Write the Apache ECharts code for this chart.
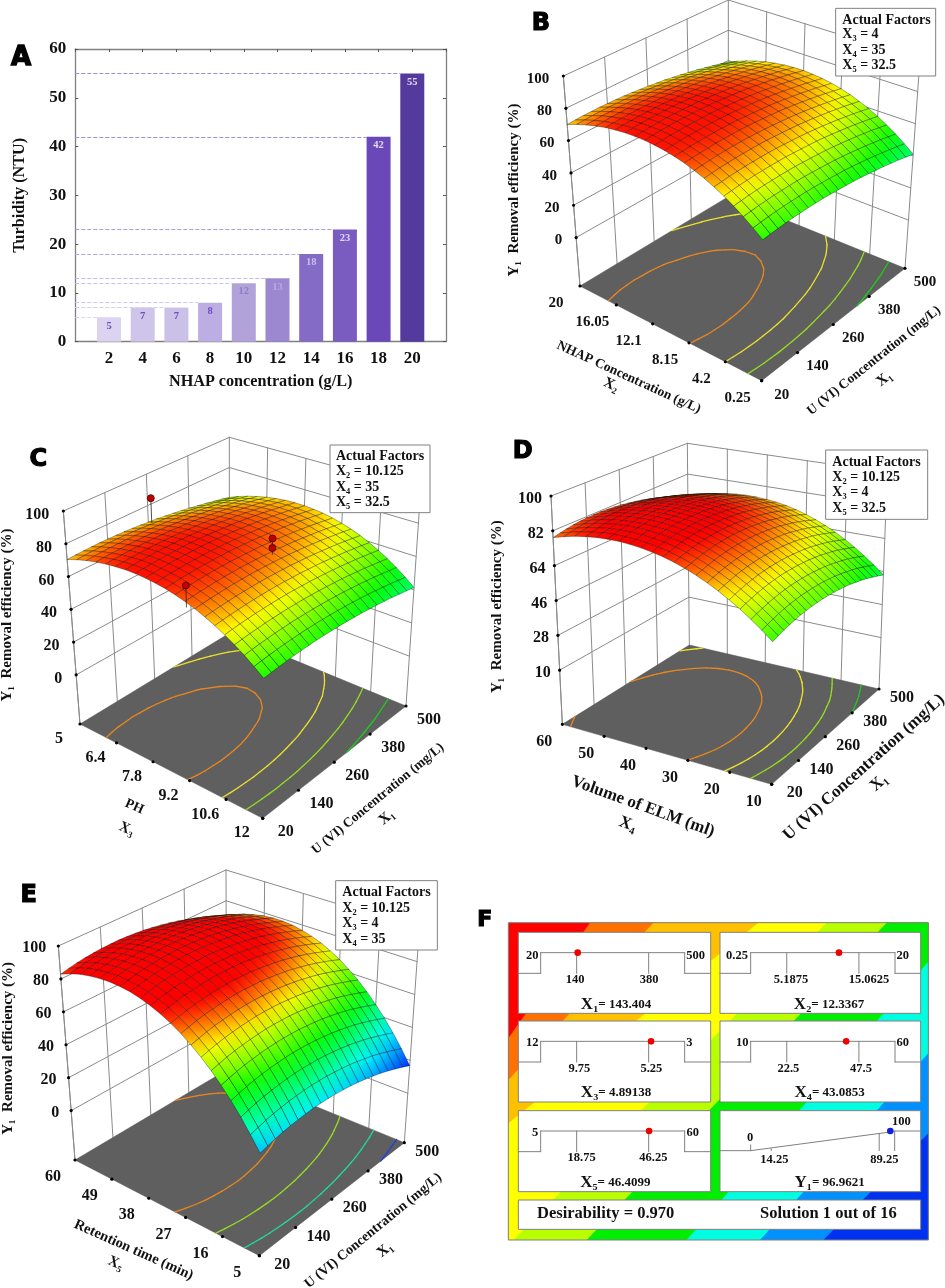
<!DOCTYPE html>
<html><head><meta charset="utf-8">
<style>html,body{margin:0;padding:0;background:#fff}#c{width:945px;height:1288px}</style>
<script src="https://cdn.jsdelivr.net/npm/echarts@6/dist/echarts.min.js"></script>
</head><body><div id="c"></div>
<script>
// ---------- Panel A data ----------
const barX=[2,4,6,8,10,12,14,16,18,20];
const barY=[5,7,7,8,12,13,18,23,42,55];
// ---------- Surfaces: rows are X1 (20..500), columns the second factor (low..high) ----------
const surfaceB=[
[52,56.4,60.5,64.2,67.6,70.5,73.1,75.3,77.2,78.6,79.7,80.4,80.8,80.7,80.3,79.5,78.4,76.8,74.9,72.6,70],
[52.3,56.7,60.8,64.5,67.9,70.8,73.4,75.6,77.5,78.9,80,80.7,81.1,81,80.6,79.8,78.7,77.1,75.2,72.9,70.3],
[52.6,57,61.1,64.8,68.2,71.1,73.7,75.9,77.8,79.2,80.3,81,81.4,81.3,80.9,80.1,79,77.4,75.5,73.2,70.6],
[52.7,57.1,61.2,64.9,68.3,71.2,73.8,76,77.9,79.3,80.4,81.1,81.5,81.4,81,80.2,79.1,77.5,75.6,73.3,70.7],
[52.8,57.2,61.3,65,68.4,71.3,73.9,76.1,78,79.4,80.5,81.2,81.6,81.5,81.1,80.3,79.2,77.6,75.7,73.4,70.8],
[52.7,57.1,61.2,64.9,68.3,71.2,73.8,76,77.9,79.3,80.4,81.1,81.5,81.4,81,80.2,79.1,77.5,75.6,73.3,70.7],
[52.6,57,61.1,64.8,68.2,71.1,73.7,75.9,77.8,79.2,80.3,81,81.4,81.3,80.9,80.1,79,77.4,75.5,73.2,70.6],
[52.4,56.8,60.9,64.6,68,70.9,73.5,75.7,77.6,79,80.1,80.8,81.2,81.1,80.7,79.9,78.8,77.2,75.3,73,70.4],
[52.1,56.5,60.6,64.3,67.7,70.6,73.2,75.4,77.3,78.7,79.8,80.5,80.9,80.8,80.4,79.6,78.5,76.9,75,72.7,70.1],
[51.6,56,60.1,63.8,67.2,70.1,72.7,74.9,76.8,78.2,79.3,80,80.4,80.3,79.9,79.1,78,76.4,74.5,72.2,69.6],
[51.1,55.5,59.6,63.3,66.7,69.6,72.2,74.4,76.3,77.7,78.8,79.5,79.9,79.8,79.4,78.6,77.5,75.9,74,71.7,69.1],
[50.5,54.9,59,62.7,66.1,69,71.6,73.8,75.7,77.1,78.2,78.9,79.3,79.2,78.8,78,76.9,75.3,73.4,71.1,68.5],
[49.9,54.3,58.4,62.1,65.5,68.4,71,73.2,75.1,76.5,77.6,78.3,78.7,78.6,78.2,77.4,76.3,74.7,72.8,70.5,67.9],
[49.1,53.5,57.6,61.3,64.7,67.6,70.2,72.4,74.3,75.7,76.8,77.5,77.9,77.8,77.4,76.6,75.5,73.9,72,69.7,67.1],
[48.2,52.6,56.7,60.4,63.8,66.7,69.3,71.5,73.4,74.8,75.9,76.6,77,76.9,76.5,75.7,74.6,73,71.1,68.8,66.2],
[47.2,51.6,55.7,59.4,62.8,65.7,68.3,70.5,72.4,73.8,74.9,75.6,76,75.9,75.5,74.7,73.6,72,70.1,67.8,65.2],
[46.2,50.6,54.7,58.4,61.8,64.7,67.3,69.5,71.4,72.8,73.9,74.6,75,74.9,74.5,73.7,72.6,71,69.1,66.8,64.2],
[45,49.4,53.5,57.2,60.6,63.5,66.1,68.3,70.2,71.6,72.7,73.4,73.8,73.7,73.3,72.5,71.4,69.8,67.9,65.6,63],
[43.8,48.2,52.3,56,59.4,62.3,64.9,67.1,69,70.4,71.5,72.2,72.6,72.5,72.1,71.3,70.2,68.6,66.7,64.4,61.8],
[42.4,46.8,50.9,54.6,58,60.9,63.5,65.7,67.6,69,70.1,70.8,71.2,71.1,70.7,69.9,68.8,67.2,65.3,63,60.4],
[41,45.4,49.5,53.2,56.6,59.5,62.1,64.3,66.2,67.6,68.7,69.4,69.8,69.7,69.3,68.5,67.4,65.8,63.9,61.6,59]];
const surfaceC=[
[51.5,55.8,59.8,63.4,66.7,69.6,72.2,74.4,76.2,77.7,78.9,79.6,80,80.1,79.8,79.1,78.1,76.7,75,72.9,70.4],
[51.8,56.1,60.1,63.7,67,69.9,72.5,74.7,76.5,78,79.2,79.9,80.3,80.4,80.1,79.4,78.4,77,75.3,73.2,70.7],
[52,56.3,60.3,63.9,67.2,70.1,72.7,74.9,76.7,78.2,79.4,80.1,80.5,80.6,80.3,79.6,78.6,77.2,75.5,73.4,70.9],
[52.1,56.4,60.4,64,67.3,70.2,72.8,75,76.8,78.3,79.5,80.2,80.6,80.7,80.4,79.7,78.7,77.3,75.6,73.5,71],
[52.2,56.5,60.5,64.1,67.4,70.3,72.9,75.1,76.9,78.4,79.6,80.3,80.7,80.8,80.5,79.8,78.8,77.4,75.7,73.6,71.1],
[52.1,56.4,60.4,64,67.3,70.2,72.8,75,76.8,78.3,79.5,80.2,80.6,80.7,80.4,79.7,78.7,77.3,75.6,73.5,71],
[52,56.3,60.3,63.9,67.2,70.1,72.7,74.9,76.7,78.2,79.4,80.1,80.5,80.6,80.3,79.6,78.6,77.2,75.5,73.4,70.9],
[51.8,56.1,60.1,63.7,67,69.9,72.5,74.7,76.5,78,79.2,79.9,80.3,80.4,80.1,79.4,78.4,77,75.3,73.2,70.7],
[51.5,55.8,59.8,63.4,66.7,69.6,72.2,74.4,76.2,77.7,78.9,79.6,80,80.1,79.8,79.1,78.1,76.7,75,72.9,70.4],
[51.1,55.4,59.4,63,66.3,69.2,71.8,74,75.8,77.3,78.5,79.2,79.6,79.7,79.4,78.7,77.7,76.3,74.6,72.5,70],
[50.6,54.9,58.9,62.5,65.8,68.7,71.3,73.5,75.3,76.8,78,78.7,79.1,79.2,78.9,78.2,77.2,75.8,74.1,72,69.5],
[50.1,54.4,58.4,62,65.3,68.2,70.8,73,74.8,76.3,77.5,78.2,78.6,78.7,78.4,77.7,76.7,75.3,73.6,71.5,69],
[49.4,53.7,57.7,61.3,64.6,67.5,70.1,72.3,74.1,75.6,76.8,77.5,77.9,78,77.7,77,76,74.6,72.9,70.8,68.3],
[48.7,53,57,60.6,63.9,66.8,69.4,71.6,73.4,74.9,76.1,76.8,77.2,77.3,77,76.3,75.3,73.9,72.2,70.1,67.6],
[47.9,52.2,56.2,59.8,63.1,66,68.6,70.8,72.6,74.1,75.3,76,76.4,76.5,76.2,75.5,74.5,73.1,71.4,69.3,66.8],
[47,51.3,55.3,58.9,62.2,65.1,67.7,69.9,71.7,73.2,74.4,75.1,75.5,75.6,75.3,74.6,73.6,72.2,70.5,68.4,65.9],
[46,50.3,54.3,57.9,61.2,64.1,66.7,68.9,70.7,72.2,73.4,74.1,74.5,74.6,74.3,73.6,72.6,71.2,69.5,67.4,64.9],
[45,49.3,53.3,56.9,60.2,63.1,65.7,67.9,69.7,71.2,72.4,73.1,73.5,73.6,73.3,72.6,71.6,70.2,68.5,66.4,63.9],
[43.8,48.1,52.1,55.7,59,61.9,64.5,66.7,68.5,70,71.2,71.9,72.3,72.4,72.1,71.4,70.4,69,67.3,65.2,62.7],
[42.6,46.9,50.9,54.5,57.8,60.7,63.3,65.5,67.3,68.8,70,70.7,71.1,71.2,70.9,70.2,69.2,67.8,66.1,64,61.5],
[41.3,45.6,49.6,53.2,56.5,59.4,62,64.2,66,67.5,68.7,69.4,69.8,69.9,69.6,68.9,67.9,66.5,64.8,62.7,60.2]];
const surfaceD=[
[54.1,58.5,62.5,66.3,69.6,72.7,75.4,77.8,79.9,81.6,83,84,84.7,85.1,85.2,84.9,84.3,83.3,82.1,80.4,78.5],
[54.9,59.3,63.3,67.1,70.4,73.5,76.2,78.6,80.7,82.4,83.8,84.8,85.5,85.9,86,85.7,85.1,84.1,82.9,81.2,79.3],
[55.6,60,64,67.8,71.1,74.2,76.9,79.3,81.4,83.1,84.5,85.5,86.2,86.6,86.7,86.4,85.8,84.8,83.6,81.9,80],
[56.2,60.6,64.6,68.4,71.7,74.8,77.5,79.9,82,83.7,85.1,86.1,86.8,87.2,87.3,87,86.4,85.4,84.2,82.5,80.6],
[56.6,61,65,68.8,72.1,75.2,77.9,80.3,82.4,84.1,85.5,86.5,87.2,87.6,87.7,87.4,86.8,85.8,84.6,82.9,81],
[56.9,61.3,65.3,69.1,72.4,75.5,78.2,80.6,82.7,84.4,85.8,86.8,87.5,87.9,88,87.7,87.1,86.1,84.9,83.2,81.3],
[57,61.4,65.4,69.2,72.5,75.6,78.3,80.7,82.8,84.5,85.9,86.9,87.6,88,88.1,87.8,87.2,86.2,85,83.3,81.4],
[57,61.4,65.4,69.2,72.5,75.6,78.3,80.7,82.8,84.5,85.9,86.9,87.6,88,88.1,87.8,87.2,86.2,85,83.3,81.4],
[56.8,61.2,65.2,69,72.3,75.4,78.1,80.5,82.6,84.3,85.7,86.7,87.4,87.8,87.9,87.6,87,86,84.8,83.1,81.2],
[56.5,60.9,64.9,68.7,72,75.1,77.8,80.2,82.3,84,85.4,86.4,87.1,87.5,87.6,87.3,86.7,85.7,84.5,82.8,80.9],
[56.1,60.5,64.5,68.3,71.6,74.7,77.4,79.8,81.9,83.6,85,86,86.7,87.1,87.2,86.9,86.3,85.3,84.1,82.4,80.5],
[55.5,59.9,63.9,67.7,71,74.1,76.8,79.2,81.3,83,84.4,85.4,86.1,86.5,86.6,86.3,85.7,84.7,83.5,81.8,79.9],
[54.8,59.2,63.2,67,70.3,73.4,76.1,78.5,80.6,82.3,83.7,84.7,85.4,85.8,85.9,85.6,85,84,82.8,81.1,79.2],
[54,58.4,62.4,66.2,69.5,72.6,75.3,77.7,79.8,81.5,82.9,83.9,84.6,85,85.1,84.8,84.2,83.2,82,80.3,78.4],
[53,57.4,61.4,65.2,68.5,71.6,74.3,76.7,78.8,80.5,81.9,82.9,83.6,84,84.1,83.8,83.2,82.2,81,79.3,77.4],
[51.8,56.2,60.2,64,67.3,70.4,73.1,75.5,77.6,79.3,80.7,81.7,82.4,82.8,82.9,82.6,82,81,79.8,78.1,76.2],
[50.6,55,59,62.8,66.1,69.2,71.9,74.3,76.4,78.1,79.5,80.5,81.2,81.6,81.7,81.4,80.8,79.8,78.6,76.9,75],
[49.2,53.6,57.6,61.4,64.7,67.8,70.5,72.9,75,76.7,78.1,79.1,79.8,80.2,80.3,80,79.4,78.4,77.2,75.5,73.6],
[47.6,52,56,59.8,63.1,66.2,68.9,71.3,73.4,75.1,76.5,77.5,78.2,78.6,78.7,78.4,77.8,76.8,75.6,73.9,72],
[45.9,50.3,54.3,58.1,61.4,64.5,67.2,69.6,71.7,73.4,74.8,75.8,76.5,76.9,77,76.7,76.1,75.1,73.9,72.2,70.3],
[44.1,48.5,52.5,56.3,59.6,62.7,65.4,67.8,69.9,71.6,73,74,74.7,75.1,75.2,74.9,74.3,73.3,72.1,70.4,68.5]];
const surfaceE=[
[29.6,37.8,45.4,52.4,58.8,64.7,70,74.7,78.8,82.3,85.3,87.6,89.4,90.7,91.3,91.4,90.8,89.7,88.1,85.8,82.9],
[30.7,38.9,46.5,53.5,59.9,65.8,71.1,75.8,79.9,83.4,86.4,88.7,90.5,91.8,92.4,92.5,91.9,90.8,89.2,86.9,84],
[31.7,39.9,47.5,54.5,60.9,66.8,72.1,76.8,80.9,84.4,87.4,89.7,91.5,92.8,93.4,93.5,92.9,91.8,90.2,87.9,85],
[32.5,40.7,48.3,55.3,61.7,67.6,72.9,77.6,81.7,85.2,88.2,90.5,92.3,93.6,94.2,94.3,93.7,92.6,91,88.7,85.8],
[33,41.2,48.8,55.8,62.2,68.1,73.4,78.1,82.2,85.7,88.7,91,92.8,94.1,94.7,94.8,94.2,93.1,91.5,89.2,86.3],
[33.4,41.6,49.2,56.2,62.6,68.5,73.8,78.5,82.6,86.1,89.1,91.4,93.2,94.5,95.1,95.2,94.6,93.5,91.9,89.6,86.7],
[33.6,41.8,49.4,56.4,62.8,68.7,74,78.7,82.8,86.3,89.3,91.6,93.4,94.7,95.3,95.4,94.8,93.7,92.1,89.8,86.9],
[33.7,41.9,49.5,56.5,62.9,68.8,74.1,78.8,82.9,86.4,89.4,91.7,93.5,94.8,95.4,95.5,94.9,93.8,92.2,89.9,87],
[33.5,41.7,49.3,56.3,62.7,68.6,73.9,78.6,82.7,86.2,89.2,91.5,93.3,94.6,95.2,95.3,94.7,93.6,92,89.7,86.8],
[33.1,41.3,48.9,55.9,62.3,68.2,73.5,78.2,82.3,85.8,88.8,91.1,92.9,94.2,94.8,94.9,94.3,93.2,91.6,89.3,86.4],
[32.6,40.8,48.4,55.4,61.8,67.7,73,77.7,81.8,85.3,88.3,90.6,92.4,93.7,94.3,94.4,93.8,92.7,91.1,88.8,85.9],
[31.8,40,47.6,54.6,61,66.9,72.2,76.9,81,84.5,87.5,89.8,91.6,92.9,93.5,93.6,93,91.9,90.3,88,85.1],
[30.9,39.1,46.7,53.7,60.1,66,71.3,76,80.1,83.6,86.6,88.9,90.7,92,92.6,92.7,92.1,91,89.4,87.1,84.2],
[29.8,38,45.6,52.6,59,64.9,70.2,74.9,79,82.5,85.5,87.8,89.6,90.9,91.5,91.6,91,89.9,88.3,86,83.1],
[28.5,36.7,44.3,51.3,57.7,63.6,68.9,73.6,77.7,81.2,84.2,86.5,88.3,89.6,90.2,90.3,89.7,88.6,87,84.7,81.8],
[27,35.2,42.8,49.8,56.2,62.1,67.4,72.1,76.2,79.7,82.7,85,86.8,88.1,88.7,88.8,88.2,87.1,85.5,83.2,80.3],
[25.4,33.6,41.2,48.2,54.6,60.5,65.8,70.5,74.6,78.1,81.1,83.4,85.2,86.5,87.1,87.2,86.6,85.5,83.9,81.6,78.7],
[23.5,31.7,39.3,46.3,52.7,58.6,63.9,68.6,72.7,76.2,79.2,81.5,83.3,84.6,85.2,85.3,84.7,83.6,82,79.7,76.8],
[21.4,29.6,37.2,44.2,50.6,56.5,61.8,66.5,70.6,74.1,77.1,79.4,81.2,82.5,83.1,83.2,82.6,81.5,79.9,77.6,74.7],
[19.2,27.4,35,42,48.4,54.3,59.6,64.3,68.4,71.9,74.9,77.2,79,80.3,80.9,81,80.4,79.3,77.7,75.4,72.5],
[16.8,25,32.6,39.6,46,51.9,57.2,61.9,66,69.5,72.5,74.8,76.6,77.9,78.5,78.6,78,76.9,75.3,73,70.1]];
// ---------- Tick labels and levels ----------
const x1Ticks=['20','140','260','380','500'];
const x2Ticks=['0.25','4.2','8.15','12.1','16.05','20'];
const x3Ticks=['12','10.6','9.2','7.8','6.4','5'];
const x4Ticks=['10','20','30','40','50','60'];
const x5Ticks=['5','16','27','38','49','60'];
const yTicks=[0,20,40,60,80,100];
const yTicksD=[10,28,46,64,82,100];
const levelsB=[77,67.6,58.4,48.8];
const levelsC=[76.5,67.9,59.1,49.6];
const levelsD=[80,71.1,62.5,52];
const levelsE=[82.8,63,42.5,24];
// design points of panel C
const dotX1=[159,260,260,140];
const dotX3=[6.4,9.51,9.51,7.8];
const dotY=[104,87.7,81.9,62];
const dotStemTo=[89,81.9,78,49];
// panel F
const sliderLow=[20,0.25,12,10,5];
const sliderHigh=[500,20,3,60,60];
const sliderDot=[143.404,12.3367,5.1,43.0853,46.4099];
const sliderTicks=[[140,380],[5.1875,15.0625],[9.75,5.25],[22.5,47.5],[18.75,46.25]];
const readouts=['= 143.404','= 12.3367','= 4.89138','= 43.0853','= 46.4099'];
const responseTicks=[0,14.25,89.25,100];
const responseValue=96.9621;
const SERIF='"Liberation Serif"';
// ---------- Layout ----------
const stopsBC=[[14,'#0030ff'],[30,'#00ffff'],[50,'#00ff00'],[67,'#ffff00'],[80,'#ff1000']];
const stopsD=[[14,'#0030ff'],[30,'#00ffff'],[50,'#00ff00'],[70,'#ffff00'],[85,'#ff0000']];
const stopsE=[[17,'#0030ff'],[35,'#00ffff'],[54,'#00ff00'],[72,'#ffff00'],[86,'#ff0000']];
const panels=[
{name:'B',off:[480,0],zF:-30,zT:100,grid:surfaceB,levels:levelsB,zt:yTicks,vt:x2Ticks,stops:stopsBC,
 cc:['#e8861e','#ebe02a','#96dc20','#20c820'],
 f:{F:[845,1142],L:[300,858],R:[1275,805],K:[745,590]},t:{F:[850,472],L:[250,228],R:[1320,178],K:[745,0]},
 zo:[-14,3],vo:[-24,17],uo:[20,14],fs:15,
 yt:[102,570],lt:{s:'NHAP Concentration (g/L)',p:[446,1132],r:-24.6,fs:13.5},lx:{s:'X₂',p:[393,1155]},
 rt:{p:[1182,1082],r:38.6,fs:13.5},rx:{s:'X₁',p:[1213,1137]},
 box:[1067,25,1367,228],bt:[1087,[60,102,150,196]],leg:['Actual Factors','X₃ = 4','X₄ = 35','X₅ = 32.5'],letter:[183,70]},
{name:'C',off:[0,430],zF:-30,zT:100,grid:surfaceC,levels:levelsC,zt:yTicks,vt:x3Ticks,stops:stopsBC,
 cc:['#e8861e','#ebe02a','#96dc20','#20c820'],
 f:{F:[788,1165],L:[240,882],R:[1218,828],K:[688,610]},t:{F:[793,495],L:[190,243],R:[1262,180],K:[688,22]},
 zo:[-14,4],vo:[-21,15],uo:[23,14],fs:16,
 yt:[22,555],lt:{s:'PH',p:[403,1130],r:-24,fs:13.5},lx:{s:'X₃',p:[380,1197]},
 rt:{p:[1134,1106],r:39.5,fs:13.5},rx:{s:'X₁',p:[1160,1162]},
 box:[990,45,1290,248],bt:[1008,[78,125,172,217]],leg:['Actual Factors','X₂ = 10.125','X₄ = 35','X₅ = 32.5'],letter:[115,88]},
{name:'D',off:[480,430],zF:-18,zT:100,grid:surfaceD,levels:levelsD,zt:yTicksD,vt:x4Ticks,stops:stopsD,
 cc:['#e8861e','#ebe02a','#96dc20','#20c820'],
 f:{F:[875,1063],L:[247,883],R:[1197,777],K:[628,645]},t:{F:[880,363],L:[213,198],R:[1222,127],K:[622,40]},
 zo:[-9,3],vo:[-18,17.5],uo:[23,9],fs:16,
 yt:[52,530],lt:{s:'Volume of ELM (ml)',p:[489,1130],r:-20,fs:17},lx:{s:'X₄',p:[443,1183],fs:17},
 rt:{p:[1152,1012],r:41.8,fs:17},rx:{s:'X₁',p:[1197,1058],fs:17},
 box:[1037,60,1343,268],bt:[1057,[97,143,188,235]],leg:['Actual Factors','X₂ = 10.125','X₃ = 4','X₅ = 32.5'],letter:[128,66]},
{name:'E',off:[0,870],zF:-30,zT:100,grid:surfaceE,levels:levelsE,zt:yTicks,vt:x5Ticks,stops:stopsE,
 cc:['#e8861e','#96dc20','#20d8a0','#2040e0'],
 f:{F:[778,1157],L:[225,870],R:[1213,818],K:[680,600]},t:{F:[783,487],L:[175,228],R:[1258,176],K:[678,0]},
 zo:[-12,2],vo:[-22,17],uo:[23,9],fs:16,
 yt:[25,535],lt:{s:'Retention time (min)',p:[401,1140],r:-24,fs:14.5},lx:{s:'X₅',p:[347,1180]},
 rt:{p:[1120,1082],r:39.5,fs:14},rx:{s:'X₁',p:[1155,1140]},
 box:[1007,32,1312,240],bt:[1027,[68,114,160,207]],leg:['Actual Factors','X₂ = 10.125','X₃ = 4','X₄ = 35'],letter:[86,76]}];
const lerp=(a,b,t)=>a+(b-a)*t;
function project(c,u,v,z){
  const t=(z-c.zF)/(c.zT-c.zF);
  const bil=(q,k)=>(1-u)*(1-v)*q.F[k]+u*(1-v)*q.R[k]+(1-u)*v*q.L[k]+u*v*q.K[k];
  return [c.off[0]+lerp(bil(c.f,0),bil(c.t,0),t)/3, c.off[1]+lerp(bil(c.f,1),bil(c.t,1),t)/3];
}
function colorOf(stops,z){
  if(z<=stops[0][0])return stops[0][1];
  for(let i=1;i<stops.length;i++){
    if(z<=stops[i][0]){
      const t=(z-stops[i-1][0])/(stops[i][0]-stops[i-1][0]);
      return echarts.color.lerp(t,[stops[i-1][1],stops[i][1]]);
    }
  }
  return stops[stops.length-1][1];
}
const line=(a,b,stroke,w)=>({type:'line',shape:{x1:a[0],y1:a[1],x2:b[0],y2:b[1]},style:{stroke,lineWidth:w,lineCap:'round'}});
const text=(s,p,o={})=>({type:'text',x:p[0],y:p[1],rotation:(o.r||0)*Math.PI/180,style:{text:s,fill:o.fill||'#111',
  fontFamily:o.ff||SERIF,fontWeight:o.fw||'bold',fontSize:o.fs||16,align:o.align||'center',verticalAlign:'middle',
  rich:o.rich,stroke:o.stroke,lineWidth:o.lw||0}});
const dot=(p,r,fill,stroke)=>({type:'circle',shape:{cx:p[0],cy:p[1],r},style:{fill,stroke:stroke||fill,lineWidth:stroke?0.8:0}});
function contourSegments(g,level){
  const n=g.length-1,m=g[0].length-1,segs=[];
  for(let i=0;i<n;i++)for(let j=0;j<m;j++){
    const a=g[i][j],b=g[i+1][j],c=g[i+1][j+1],d=g[i][j+1],pts=[];
    const cross=(z1,z2,p1,p2)=>{
      if((z1<level)!==(z2<level)){const t=(level-z1)/(z2-z1);pts.push([lerp(p1[0],p2[0],t),lerp(p1[1],p2[1],t)]);}
    };
    cross(a,b,[i,j],[i+1,j]);cross(b,c,[i+1,j],[i+1,j+1]);cross(c,d,[i+1,j+1],[i,j+1]);cross(d,a,[i,j+1],[i,j]);
    if(pts.length>=2)segs.push([pts[0],pts[1]]);
    if(pts.length===4)segs.push([pts[2],pts[3]]);
  }
  return segs.map(s=>s.map(q=>[q[0]/n,q[1]/m]));
}
function frameSeries(c){
  return {type:'custom',coordinateSystem:'cartesian2d',xAxisIndex:0,yAxisIndex:0,clip:false,silent:true,z:2,data:[[0,0]],
   renderItem(params,api){
    const P=(u,v,z)=>api.coord(project(c,u,v,z));
    const ch=[],gray='#8a8a8a';
    c.zt.forEach(z=>{ch.push(line(P(0,1,z),P(1,1,z),gray,1));ch.push(line(P(1,1,z),P(1,0,z),gray,1));});
    [0,.25,.5,.75,1].forEach(u=>ch.push(line(P(u,1,c.zF),P(u,1,c.zT),gray,1)));
    [0,.2,.4,.6,.8].forEach(v=>ch.push(line(P(1,v,c.zF),P(1,v,c.zT),gray,1)));
    ch.push(line(P(0,1,c.zF),P(0,1,c.zT),gray,1));
    ch.push({type:'polygon',shape:{points:[P(0,0,c.zF),P(1,0,c.zF),P(1,1,c.zF),P(0,1,c.zF)]},style:{fill:'#5f5f5f',stroke:'#555',lineWidth:.5}});
    c.levels.forEach((lv,k)=>contourSegments(c.grid,lv).forEach(s=>{
      ch.push(line(P(s[0][0],s[0][1],c.zF),P(s[1][0],s[1][1],c.zF),c.cc[k],1.3));
    }));
    c.zt.forEach(z=>{const p=P(0,1,z);ch.push(dot(p,1.6,'#000'));
      ch.push(text(String(z),[p[0]+c.zo[0],p[1]+c.zo[1]],{fs:c.fs,align:'right'}));});
    c.vt.forEach((s,k)=>{const p=P(0,k/5,c.zF);ch.push(dot(p,1.6,'#000'));
      ch.push(text(s,[p[0]+c.vo[0],p[1]+c.vo[1]],{fs:c.fs}));});
    x1Ticks.forEach((s,k)=>{const p=P(k/4,0,c.zF);ch.push(dot(p,1.6,'#000'));
      ch.push(text(s,[p[0]+c.uo[0],p[1]+c.uo[1]],{fs:c.fs}));});
    const Z=q=>api.coord([c.off[0]+q[0]/3,c.off[1]+q[1]/3]);
    ch.push(text('Y₁  Removal efficiency (%)',Z(c.yt),{r:90,fs:15}));
    ch.push(text(c.lt.s,Z(c.lt.p),{r:c.lt.r,fs:c.lt.fs}));
    ch.push(text(c.lx.s,Z(c.lx.p),{r:c.lt.r,fs:c.lx.fs||15}));
    ch.push(text('U (VI) Concentration (mg/L)',Z(c.rt.p),{r:c.rt.r,fs:c.rt.fs}));
    ch.push(text(c.rx.s,Z(c.rx.p),{r:c.rt.r,fs:c.rx.fs||15}));
    return {type:'group',children:ch};
   }};
}
function surfaceSeries(c){
  const cells=[];
  for(let i=c.grid.length-2;i>=0;i--)for(let j=c.grid[0].length-2;j>=0;j--)cells.push([i,j]);
  const n=c.grid.length-1,m=c.grid[0].length-1;
  return {type:'custom',coordinateSystem:'cartesian2d',xAxisIndex:0,yAxisIndex:0,clip:false,silent:true,z:3,progressive:0,data:cells,
   renderItem(params,api){
    const i=api.value(0),j=api.value(1),g=c.grid;
    const corners=[[i,j],[i+1,j],[i+1,j+1],[i,j+1]];
    const V=q=>api.coord(project(c,q[0]/n,q[1]/m,g[q[0]][q[1]]));
    let lo=corners[0],hi=corners[0];
    corners.forEach(q=>{if(g[q[0]][q[1]]<g[lo[0]][lo[1]])lo=q;if(g[q[0]][q[1]]>g[hi[0]][hi[1]])hi=q;});
    const a=V(lo),b=V(hi);
    const fill=new echarts.graphic.LinearGradient(a[0],a[1],b[0],b[1],[
      {offset:0,color:colorOf(c.stops,g[lo[0]][lo[1]])},{offset:1,color:colorOf(c.stops,g[hi[0]][hi[1]])}],true);
    return {type:'polygon',shape:{points:corners.map(V)},style:{fill,stroke:'rgba(0,0,0,0.55)',lineWidth:.6}};
   }};
}
function overlaySeries(c){
  return {type:'custom',coordinateSystem:'cartesian2d',xAxisIndex:0,yAxisIndex:0,clip:false,silent:true,z:5,data:[[0,0]],
   renderItem(params,api){
    const Z=q=>api.coord([c.off[0]+q[0]/3,c.off[1]+q[1]/3]);
    const tl=Z([c.box[0],c.box[1]]),br=Z([c.box[2],c.box[3]]),ch=[];
    ch.push({type:'rect',shape:{x:tl[0],y:tl[1],width:br[0]-tl[0],height:br[1]-tl[1]},style:{fill:'#fff',stroke:'#808080',lineWidth:1}});
    c.leg.forEach((s,k)=>ch.push(text(s,Z([c.bt[0],c.bt[1][k]]),{align:'left',fs:14})));
    ch.push(text(c.name,Z(c.letter),{ff:'"DejaVu Sans"',fs:24,fill:'#000',stroke:'#000',lw:1.2}));
    if(c.name==='C'){
      dotX1.forEach((x,k)=>{
        const u=(x-20)/480,v=(12-dotX3[k])/7;
        const a=api.coord(project(c,u,v,dotY[k])),b=api.coord(project(c,u,v,dotStemTo[k]));
        ch.push(line(a,b,'#222',.8));ch.push(dot(a,3.5,'#c00000','#4a0000'));
      });
    }
    return {type:'group',children:ch};
   }};
}
// ---------- Panel F ----------
const bands=[
 ['#ff7000',[330,68],[85,415]],['#ffc000',[520,68],[85,540]],['#ffff00',[835,68],[85,670]],
 ['#b8ff00',[1040,68],[100,1020]],['#00ee00',[1220,68],[320,1020]],['#00ffe0',[1345,185],[620,1020]],
 ['#0090ff',[1345,460],[840,1020]],['#0030f0',[1345,700],[1030,1020]]];
const boxes=[[115,692,97],[720,1322,97],[115,692,363],[720,1322,363],[115,692,632]];
const sliderLabels=[
 {lo:['20',157,166],hi:['500',647,166],t:[['140',285,238],['380',507,238]],r:[['X₁',408,315]]},
 {lo:['0.25',771,166],hi:['20',1268,166],t:[['5.1875',933,238],['15.0625',1167,238]],r:[['X₂',1047,315]]},
 {lo:['12',157,428],hi:['3',628,428],t:[['9.75',298,505],['5.25',514,505]],r:[['X₃',408,578]]},
 {lo:['10',787,428],hi:['60',1268,428],t:[['22.5',925,505],['47.5',1143,505]],r:[['X₄',1049,578]]},
 {lo:['5',165,697],hi:['60',638,697],t:[['18.75',305,772],['46.25',520,772]],r:[['X₅',406,847]]}];
const panelF={type:'custom',coordinateSystem:'cartesian2d',xAxisIndex:0,yAxisIndex:0,clip:false,silent:true,z:2,data:[[0,0]],
 renderItem(params,api){
  const Z=(x,y)=>api.coord([480+x/3,900+y/3]);
  const ch=[],X0=85,X1=1345,Y0=68,Y1=1020;
  const rect=(x0,y0,x1,y1,fill,stroke,w)=>{const a=Z(x0,y0),b=Z(x1,y1);
    return {type:'rect',shape:{x:a[0],y:a[1],width:b[0]-a[0],height:b[1]-a[1]},style:{fill,stroke,lineWidth:w||0}};};
  ch.push(rect(X0,Y0,X1,Y1,'#ff0000'));
  bands.forEach(b=>{
    const [col,A,B]=b,pts=[A];
    if(A[1]===Y0)pts.push([X1,Y0]);
    pts.push([X1,Y1]);
    if(B[0]===X0)pts.push([X0,Y1]);
    pts.push(B);
    ch.push({type:'polygon',shape:{points:pts.map(p=>Z(p[0],p[1]))},style:{fill:col}});
  });
  ch.push(rect(X0,Y0,X1,Y1,'transparent','#808080',1));
  const g='#808080';
  boxes.forEach((b,k)=>{
    const top=b[2],lx=k%2?812:182,rx=k%2?1245:614,y1=top+61,y2=top+123;
    ch.push(rect(b[0],top,b[1],top+243,'#fff',g,1));
    ch.push(line(Z(b[0],y2),Z(lx,y2),g,1));ch.push(line(Z(lx,y2),Z(lx,y1),g,1));
    ch.push(line(Z(lx,y1),Z(rx,y1),g,1));ch.push(line(Z(rx,y1),Z(rx,y2),g,1));ch.push(line(Z(rx,y2),Z(b[1],y2),g,1));
    const sx=v=>lx+(rx-lx)*(v-sliderLow[k])/(sliderHigh[k]-sliderLow[k]);
    sliderTicks[k].forEach(v=>ch.push(line(Z(sx(v),y1),Z(sx(v),y2),g,1)));
    ch.push(dot(Z(sx(sliderDot[k]),y1),3.3,'#ee0000'));
    const L=sliderLabels[k];
    [L.lo,L.hi,...L.t].forEach(t=>ch.push(text(t[0],Z(t[1],t[2]),{fs:12.5})));
    ch.push(text('{a|'+L.r[0][0]+'}{b|'+readouts[k]+'}',Z(L.r[0][1],L.r[0][2]),{rich:{a:{fontSize:17,fontWeight:'bold',fontFamily:SERIF,fill:'#111'},b:{fontSize:13,fontWeight:'bold',fontFamily:SERIF,fill:'#111'}}}));
  });
  // response box
  const top=632,y1=693,y2=752,rsx=v=>812+432*v/100;
  ch.push(rect(720,top,1322,top+243,'#fff',g,1));
  ch.push(line(Z(720,y2),Z(rsx(0),y2),g,1));ch.push(line(Z(rsx(0),y2),Z(rsx(responseValue),y1+3),g,1));
  ch.push(line(Z(rsx(responseValue),y1),Z(1322,y1),g,1));
  ch.push(line(Z(rsx(responseTicks[0]),y2-17),Z(rsx(responseTicks[0]),y2),g,1));
  ch.push(line(Z(rsx(responseTicks[1]),y2-6),Z(rsx(responseTicks[1]),y2),g,1));
  ch.push(line(Z(rsx(responseTicks[2]),y1+7),Z(rsx(responseTicks[2]),y2),g,1));
  ch.push(line(Z(rsx(responseTicks[3]),y1),Z(rsx(responseTicks[3]),y2),g,1));
  ch.push(dot(Z(rsx(responseValue),y1),3.3,'#1020e0'));
  [['100',1264,665],['0',810,713],['14.25',883,778],['89.25',1213,778]].forEach(t=>ch.push(text(t[0],Z(t[1],t[2]),{fs:12.5})));
  ch.push(text('{a|Y₁}{b|= 96.9621}',Z(1049,847),{rich:{a:{fontSize:17,fontWeight:'bold',fontFamily:SERIF,fill:'#111'},b:{fontSize:13,fontWeight:'bold',fontFamily:SERIF,fill:'#111'}}}));
  ch.push(rect(115,900,1322,988,'#fff',g,1));
  ch.push(text('Desirability = 0.970',Z(377,941),{fs:16.5}));
  ch.push(text('Solution 1 out of 16',Z(1045,941),{fs:16.5}));
  ch.push(text('F',Z(14,62),{ff:'"DejaVu Sans"',fs:22,fill:'#000',stroke:'#000',lw:1.2}));
  return {type:'group',children:ch};
 }};
// ---------- Panel A ----------
const barColors=['#dcd3f0','#cfc4ea','#cbc0e8','#bcaee2','#b1a3da','#9c88d0','#836bc6','#7a5cc0','#6a48b8','#553a9e'];
const barLabelColors=['#6a4fc0','#6a4fc0','#6a4fc0','#6a4fc0','#8e7cc9','#b8aae0','#c9bdec','#e0d8f5','#e0d8f5','#e0d8f5'];
const dashColors=['#dcd6f2','#d6cff0','#d6cff0','#d0c8ee','#ccc3ec','#c4baea','#b4a8e4','#a99ae0','#9f8fdc','#9a8ada'];
const axisGray={onZero:false,show:true,lineStyle:{color:'#808080',width:1.3}};
const tickCol={color:'#555',width:1};
const option={animation:false,
 grid:[{left:0,top:0,width:945,height:1288,show:false},{left:75.3,top:49,width:370.7,height:292.7,show:false}],
 xAxis:[
  {gridIndex:0,type:'value',min:0,max:945,show:false},
  {gridIndex:1,type:'value',min:0,max:22,interval:2,position:'bottom',name:'NHAP concentration (g/L)',nameLocation:'middle',nameGap:32,
   nameTextStyle:{fontFamily:SERIF,fontWeight:'bold',fontSize:16.2,color:'#111'},
   axisLine:axisGray,axisTick:{show:false},splitLine:{show:false},
   axisLabel:{showMinLabel:false,showMaxLabel:false,margin:8,fontFamily:SERIF,fontWeight:'bold',fontSize:17,color:'#111'}},
  {gridIndex:1,type:'value',min:0,max:22,interval:2,position:'top',axisLine:axisGray,axisTick:{inside:true,length:3,lineStyle:tickCol},axisLabel:{show:false},splitLine:{show:false}}
 ],
 yAxis:[
  {gridIndex:0,type:'value',min:0,max:1288,inverse:true,show:false},
  {gridIndex:1,type:'value',min:0,max:60,interval:10,position:'left',name:'Turbidity (NTU)',nameLocation:'middle',nameGap:47,nameRotate:90,
   nameTextStyle:{fontFamily:SERIF,fontWeight:'bold',fontSize:16.2,color:'#111'},
   axisLine:axisGray,axisTick:{inside:true,length:3,lineStyle:tickCol},splitLine:{show:false},
   axisLabel:{margin:9,fontFamily:SERIF,fontWeight:'bold',fontSize:17,color:'#111'}},
  {gridIndex:1,type:'value',min:0,max:60,interval:10,position:'right',axisLine:axisGray,axisTick:{inside:true,length:3,lineStyle:tickCol},axisLabel:{show:false},splitLine:{show:false}}
 ],
 series:[
  {type:'bar',xAxisIndex:1,yAxisIndex:1,barWidth:24,z:3,
   data:barX.map((x,i)=>({value:[x,barY[i]],itemStyle:{color:barColors[i]},
     label:{show:true,position:'insideTop',distance:3,color:barLabelColors[i],fontFamily:SERIF,fontWeight:'bold',fontSize:10.5,formatter:String(barY[i])}})),
   markLine:{silent:true,symbol:'none',animation:false,label:{show:false},
     data:barX.map((x,i)=>[{coord:[0,barY[i]],lineStyle:{color:dashColors[i],type:[4,2],width:1}},{coord:[x-0.72,barY[i]]}])}},
  {type:'custom',coordinateSystem:'cartesian2d',xAxisIndex:0,yAxisIndex:0,clip:false,silent:true,z:5,data:[[0,0]],
   renderItem(p,api){return text('A',api.coord([21,58]),{ff:'"DejaVu Sans"',fs:26,fill:'#000',stroke:'#000',lw:1.4});}},
  ...panels.map(frameSeries),...panels.map(surfaceSeries),...panels.map(overlaySeries),panelF
 ]};
const chart=echarts.init(document.getElementById('c'),null,{renderer:'canvas',width:945,height:1288});
chart.setOption(option);
</script></body></html>
